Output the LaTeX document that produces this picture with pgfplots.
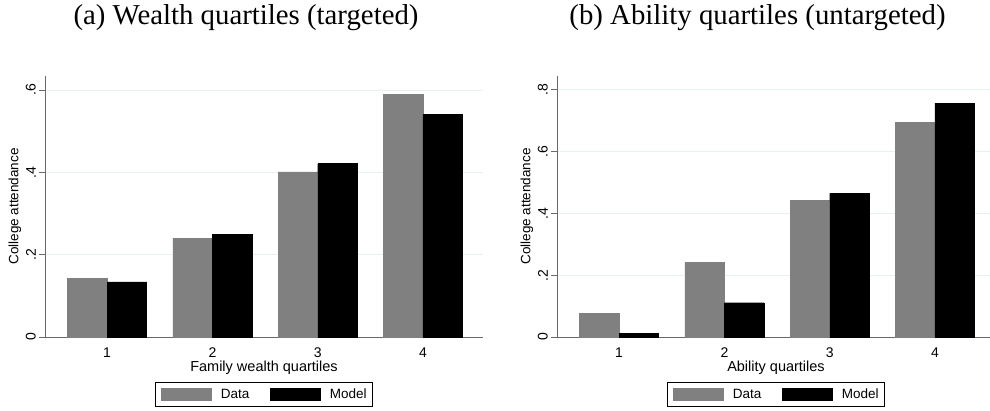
\documentclass[border=0pt]{standalone}
\usepackage{fontspec}
\setmainfont{Liberation Serif}
\setsansfont{Liberation Sans}
\usepackage{pgfplots}
\pgfplotsset{compat=1.18}
\definecolor{datagray}{RGB}{128,128,128}
\definecolor{axisgray}{RGB}{105,105,105}
\definecolor{gridc}{RGB}{232,240,241}
\pgfplotsset{
  stataaxis/.style={
    anchor=south west, scale only axis, width=438pt, height=261pt,
    xmin=0.41, xmax=4.57, ymin=0,
    axis x line*=bottom, axis y line*=left,
    axis line style={draw=axisgray, line width=0.9pt, -},
    ybar=0pt, bar width=39.5pt,
    xtick={1,2,3,4}, xticklabels={1,2,3,4},
    major x tick style={draw=none},
    tick align=outside, major tick length=6pt,
    major y tick style={draw=axisgray, line width=0.9pt},
    ymajorgrids, major grid style={draw=gridc, line width=0.9pt},
    tick label style={font=\fontsize{14}{16}\sffamily},
    yticklabel style={font=\fontsize{14}{16}\sffamily, rotate=90, anchor=south, inner sep=3pt},
    xticklabel style={font=\fontsize{14}{16}\sffamily, yshift=-2pt, inner sep=3pt},
    xlabel style={font=\fontsize{14.5}{16}\sffamily, at={(axis description cs:0.5,-0.1188)}, anchor=center},
    ylabel style={font=\fontsize{13.5}{15}\sffamily, at={(axis description cs:-0.0685,0.5)}, anchor=center},
    legend columns=2,
    legend image code/.code={\fill[##1] (0pt,-6.15pt) rectangle (50pt,6.15pt);},
    legend style={at={(axis description cs:0.5,-0.2682)}, anchor=south,
      draw=black, line width=0.7pt, inner xsep=6pt, inner ysep=5.8pt,
      font=\fontsize{13.5}{15}\sffamily,
      nodes={inner sep=0pt},
      /tikz/every odd column/.append style={column sep=9pt},
      /tikz/every even column/.append style={column sep=21pt}},
  }
}
\begin{document}
\begin{tikzpicture}
\useasboundingbox (0,0) rectangle (990pt,410pt);
\node[anchor=base, font=\fontsize{28.8}{32}\rmfamily] at (246pt,385pt) {(a) Wealth quartiles (targeted)};
\node[anchor=base, font=\fontsize{28.8}{32}\rmfamily] at (757.5pt,385pt) {(b) Ability quartiles (untargeted)};
\begin{axis}[stataaxis, at={(45pt,73pt)}, ymax=0.634,
  ytick={0,0.2,0.4,0.6}, yticklabels={0,.2,.4,.6},
  xlabel={Family wealth quartiles}, ylabel={College attendance}]
\addplot[fill=datagray, draw=datagray, line width=0.4pt] coordinates {(1,0.142) (2,0.240) (3,0.401) (4,0.590)};
\addplot[fill=black, draw=black, line width=0.4pt] coordinates {(1,0.134) (2,0.250) (3,0.421) (4,0.540)};
\legend{Data,Model}
\end{axis}
\begin{axis}[stataaxis, at={(557pt,73pt)}, ymax=0.845,
  ytick={0,0.2,0.4,0.6,0.8}, yticklabels={0,.2,.4,.6,.8},
  xlabel={Ability quartiles}, ylabel={College attendance}]
\addplot[fill=datagray, draw=datagray, line width=0.4pt] coordinates {(1,0.077) (2,0.242) (3,0.443) (4,0.696)};
\addplot[fill=black, draw=black, line width=0.4pt] coordinates {(1,0.011) (2,0.111) (3,0.465) (4,0.757)};
\legend{Data,Model}
\end{axis}
\end{tikzpicture}
\end{document}
